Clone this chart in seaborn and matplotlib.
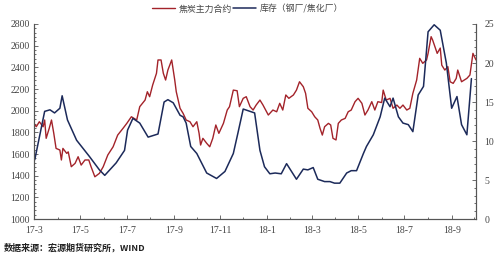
import numpy as np
import pandas as pd
import matplotlib
matplotlib.use("Agg")
import matplotlib.pyplot as plt
import matplotlib.dates as mdates
from matplotlib.ticker import MultipleLocator
import seaborn as sns

# ---- data (day offsets from 2017-03-01) ----
coke_day = [0, 3, 7, 12, 14, 16, 20, 23, 26, 29, 34, 36, 38, 43, 45, 49, 54, 58, 62, 67,
            72, 75, 80, 86, 91, 97, 104, 110, 117, 122, 128, 135, 139, 146, 149, 152, 156, 161, 163, 167,
            170, 173, 176, 181, 185, 187, 192, 196, 200, 205, 209, 214, 217, 219, 222, 227, 231, 235, 239, 243,
            249, 254, 257, 262, 267, 270, 275, 279, 284, 288, 292, 297, 301, 308, 314, 319, 323, 327, 331, 335,
            341, 345, 349, 354, 357, 360, 365, 369, 373, 376, 379, 382, 387, 390, 393, 397, 400, 404, 409, 413,
            417, 422, 426, 431, 435, 439, 444, 448, 452, 457, 459, 463, 468, 472, 477, 481, 485, 490, 494, 498,
            503, 507, 511, 516, 518, 522, 524, 527, 530, 534, 536, 540, 544, 547, 551, 555, 557, 562, 569, 573,
            577, 581]
coke_price = [1883, 1852, 1898, 1852, 1914, 1745, 1837, 1914, 1791, 1652, 1637, 1545, 1652, 1606, 1620, 1483, 1514, 1575, 1498, 1545,
              1545, 1483, 1390, 1422, 1483, 1591, 1667, 1775, 1837, 1883, 1944, 1914, 2037, 2098, 2175, 2129, 2237, 2345, 2468, 2468,
              2345, 2283, 2375, 2468, 2283, 2175, 2022, 1975, 1914, 1898, 1852, 1898, 1791, 1683, 1745, 1699, 1667, 1745, 1868, 1791,
              1883, 2006, 2037, 2190, 2184, 2037, 2114, 2129, 2037, 2006, 2052, 2098, 2052, 1960, 2006, 1990, 2068, 2006, 2145, 2114,
              2145, 2190, 2267, 2221, 2160, 2022, 1990, 1944, 1914, 1837, 1775, 1852, 1883, 1868, 1745, 1730, 1883, 1914, 1929, 1990,
              2006, 2083, 2114, 2068, 1960, 2006, 2083, 2006, 2083, 2075, 2190, 2098, 2114, 2022, 2052, 2022, 2052, 2006, 2022, 2160,
              2283, 2483, 2437, 2468, 2529, 2683, 2652, 2591, 2529, 2578, 2420, 2375, 2406, 2267, 2252, 2298, 2375, 2267, 2298, 2329,
              2529, 2468]

stock_day = [1, 14, 21, 27, 34, 37, 44, 56, 73, 86, 93, 108, 119, 123, 130, 139, 150, 163, 171, 176,
             183, 192, 196, 200, 206, 214, 227, 240, 251, 262, 268, 275, 284, 290, 297, 303, 310, 317, 325, 332,
             345, 354, 360, 367, 373, 382, 389, 395, 402, 411, 417, 424, 433, 437, 446, 455, 461, 468, 472, 479,
             485, 492, 498, 505, 512, 518, 526, 534, 542, 549, 556, 562, 569, 575]
stock_val = [7.6, 13.8, 14.0, 13.6, 14.2, 15.8, 12.7, 10.1, 8.0, 6.3, 5.6, 7.2, 8.8, 11.4, 12.9, 12.3, 10.5, 10.9, 15.0, 15.3,
             14.9, 13.3, 13.1, 12.3, 9.3, 8.4, 5.9, 5.2, 6.1, 8.4, 11.0, 14.1, 13.8, 13.6, 8.8, 6.7, 5.8, 5.9, 5.8, 7.1,
             5.1, 6.4, 6.3, 6.6, 5.1, 4.8, 4.8, 4.6, 4.6, 5.9, 6.2, 6.2, 8.4, 9.3, 10.8, 13.1, 15.5, 14.4, 15.5, 13.1,
             12.3, 12.1, 11.2, 15.9, 17.0, 24.0, 24.9, 24.2, 20.0, 14.2, 15.7, 12.1, 10.8, 18.0]

x_tick_labels = ["17-3", "17-5", "17-7", "17-9", "17-11", "18-1", "18-3", "18-5", "18-7", "18-9"]
label_coke = "焦炭主力合约"
label_stock = "库存（钢厂/焦化厂）"
source_text = "数据来源：宏源期货研究所，WIND"

start = pd.Timestamp("2017-03-01")
coke = pd.DataFrame({"date": start + pd.to_timedelta(coke_day, unit="D"), "price": coke_price})
stock = pd.DataFrame({"date": start + pd.to_timedelta(stock_day, unit="D"), "val": stock_val})

sns.set_theme(style="white")
plt.rcParams["font.family"] = ["Noto Sans CJK SC", "DejaVu Sans"]

RED = "#A3232A"
NAVY = "#1C2A5A"
AX = "#555555"

fig = plt.figure(figsize=(5.0, 2.58), dpi=100)
ax = fig.add_axes([0.068, 0.151, 0.884, 0.756])
ax2 = ax.twinx()

sns.lineplot(data=coke, x="date", y="price", ax=ax, color=RED, linewidth=1.0, label=label_coke, legend=False)
sns.lineplot(data=stock, x="date", y="val", ax=ax2, color=NAVY, linewidth=1.1, label=label_stock, legend=False)

ax.set_xlim(pd.Timestamp("2017-03-01"), pd.Timestamp("2018-10-03"))
ax.set_ylim(1000, 2800)
ax2.set_ylim(0, 25)
ax.set_xlabel("")
ax.set_ylabel("")
ax2.set_ylabel("")

tick_dates = pd.date_range("2017-03-01", periods=len(x_tick_labels), freq="2MS")
ax.set_xticks(tick_dates)
ax.set_xticklabels(x_tick_labels)
ax.xaxis.set_minor_locator(mdates.MonthLocator())
ax.yaxis.set_major_locator(MultipleLocator(200))
ax.yaxis.set_minor_locator(MultipleLocator(40))
ax2.yaxis.set_major_locator(MultipleLocator(5))
ax2.yaxis.set_minor_locator(MultipleLocator(1))

for a in (ax, ax2):
    for s in a.spines.values():
        s.set_color(AX)
        s.set_linewidth(0.8)
    a.spines["top"].set_visible(False)
    a.tick_params(which="both", direction="in", colors=AX, labelcolor="#444444", labelsize=7, width=0.6)
    a.tick_params(which="major", length=3)
    a.tick_params(which="minor", length=1.5)
    for lab in a.get_xticklabels() + a.get_yticklabels():
        lab.set_family(["Liberation Serif"])
ax.tick_params(axis="x", pad=5)
ax.tick_params(axis="y", left=True, right=False, pad=3)
ax.tick_params(axis="x", which="both", bottom=True)
ax2.tick_params(axis="y", which="both", right=True, left=False, pad=6)
ax.grid(False)
ax2.grid(False)

h1, l1 = ax.get_legend_handles_labels()
h2, l2 = ax2.get_legend_handles_labels()
fig.legend(h1 + h2, l1 + l2, loc="center", bbox_to_anchor=(0.495, 0.965), ncol=2, frameon=False,
           fontsize=6.4, handlelength=2.6, handletextpad=0.4, columnspacing=0.2, labelcolor="#444444")

fig.text(0.008, 0.04, source_text, fontsize=6.5, fontweight="bold", color="#222222", ha="left", va="center")

fig.savefig("out.png", dpi=100)
